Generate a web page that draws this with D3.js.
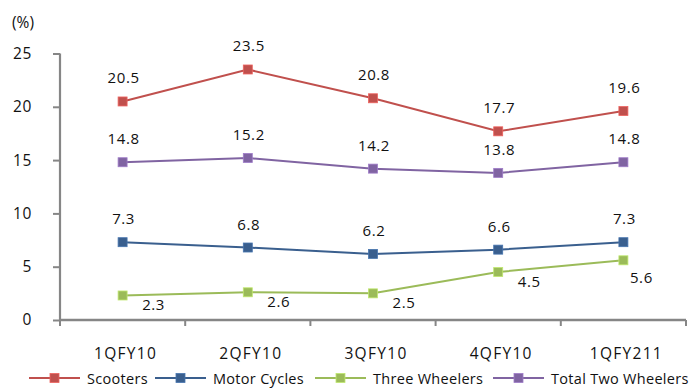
<!DOCTYPE html>
<html>
<head>
<meta charset="utf-8">
<script src="https://cdn.jsdelivr.net/npm/d3@7/dist/d3.min.js"></script>
<style>
  html, body { margin: 0; padding: 0; background: #fff; }
  svg { display: block; }
  text { font-family: "Open Sans", "Noto Sans", sans-serif; fill: #111; }
</style>
</head>
<body>
<svg id="chart" width="689" height="389"></svg>
<script>
// Quarterly categories
const categories = ["1QFY10", "2QFY10", "3QFY10", "4QFY10", "1QFY211"];

// Series values (%)
const scooters = [20.5, 23.5, 20.8, 17.7, 19.6];
const motorCycles = [7.3, 6.8, 6.2, 6.6, 7.3];
const threeWheelers = [2.3, 2.6, 2.5, 4.5, 5.6];
const totalTwoWheelers = [14.8, 15.2, 14.2, 13.8, 14.8];

const seriesNames = ["Scooters", "Motor Cycles", "Three Wheelers", "Total Two Wheelers"];
const yTicks = [0, 5, 10, 15, 20, 25];

(function () {
  const series = [
    { name: seriesNames[0], values: scooters, color: "#C0504D", below: false },
    { name: seriesNames[1], values: motorCycles, color: "#3A5F8E", below: false },
    { name: seriesNames[2], values: threeWheelers, color: "#9BBB59", below: true },
    { name: seriesNames[3], values: totalTwoWheelers, color: "#8064A2", below: false }
  ];

  const svg = d3.select("#chart");
  const plotLeft = 60, plotRight = 686, plotTop = 53.5, plotBottom = 320;
  const axisColor = "#868686";

  const x = d3.scaleBand().domain(categories).range([plotLeft, plotRight]).padding(0);
  const cx = c => x(c) + x.bandwidth() / 2;
  const y = d3.scaleLinear().domain([0, 25]).range([plotBottom, plotTop]);

  // Y axis
  const yAxis = svg.append("g")
    .attr("transform", `translate(${plotLeft},0)`)
    .call(d3.axisLeft(y).tickValues(yTicks).tickSize(7).tickPadding(21).tickFormat(d3.format("d")));
  yAxis.select(".domain").attr("stroke", axisColor).attr("stroke-width", 2.2)
    .attr("d", `M0,${plotTop}V${plotBottom}`);
  yAxis.selectAll(".tick line").attr("stroke", axisColor).attr("stroke-width", 2);
  yAxis.selectAll(".tick text").attr("font-size", 15.5).attr("letter-spacing", 0.6)
    .attr("font-family", "'Open Sans', sans-serif").attr("fill", "#111");

  // X axis with ticks on category boundaries
  const xAxisG = svg.append("g").attr("transform", `translate(0,${plotBottom})`);
  xAxisG.append("line").attr("x1", plotLeft).attr("x2", plotRight)
    .attr("stroke", axisColor).attr("stroke-width", 2.4);
  const bounds = categories.map(c => x(c)).concat([plotRight]);
  xAxisG.selectAll("line.tk").data(bounds).join("line")
    .attr("class", "tk")
    .attr("x1", d => d).attr("x2", d => d).attr("y1", 0).attr("y2", 6)
    .attr("stroke", axisColor).attr("stroke-width", 2);
  xAxisG.selectAll("text.cat").data(categories).join("text")
    .attr("class", "cat")
    .attr("x", d => cx(d) + 3).attr("y", 39)
    .attr("text-anchor", "middle").attr("font-size", 15.5).attr("letter-spacing", 1.3)
    .text(d => d);

  // Unit label
  svg.append("text").attr("x", 12).attr("y", 28).attr("font-size", 15.5).text("(%)");

  // Series lines, markers and value labels
  const line = d3.line().x((d, i) => cx(categories[i])).y(d => y(d));
  const ms = 9;

  series.forEach(s => {
    const g = svg.append("g");
    g.append("path").datum(s.values)
      .attr("d", line).attr("fill", "none")
      .attr("stroke", s.color).attr("stroke-width", 2);
    g.selectAll("rect").data(s.values).join("rect")
      .attr("x", (d, i) => cx(categories[i]) - ms / 2)
      .attr("y", d => y(d) - ms / 2)
      .attr("width", ms).attr("height", ms)
      .attr("fill", s.color)
      .attr("stroke", d3.color(s.color).brighter(0.6)).attr("stroke-width", 0.8);
    g.selectAll("text").data(s.values).join("text")
      .attr("x", (d, i) => {
        const base = cx(categories[i]);
        if (!s.below) return base + 1;
        return base + (i === categories.length - 1 ? 18 : 31);
      })
      .attr("y", (d, i) => {
        if (!s.below) return y(d) - 18;
        return y(d) + (i === categories.length - 1 ? 23 : 15);
      })
      .attr("text-anchor", "middle").attr("font-size", 15).attr("letter-spacing", 0.6)
      .text(d => d3.format(".1f")(d));
  });

  // Legend
  const legendX = [29, 155, 315, 493];
  const legendY = 380;
  const lg = svg.append("g");
  series.forEach((s, i) => {
    const gx = legendX[i];
    lg.append("line").attr("x1", gx).attr("x2", gx + 51)
      .attr("y1", legendY - 2).attr("y2", legendY - 2)
      .attr("stroke", s.color).attr("stroke-width", 2);
    lg.append("rect").attr("x", gx + 25.5 - ms / 2).attr("y", legendY - 2 - ms / 2)
      .attr("width", ms).attr("height", ms).attr("fill", s.color)
      .attr("stroke", d3.color(s.color).brighter(0.6)).attr("stroke-width", 0.8);
    lg.append("text").attr("x", gx + 58).attr("y", legendY + 4)
      .attr("font-size", 14.5).attr("letter-spacing", 0.3).text(s.name);
  });
})();
</script>
</body>
</html>
